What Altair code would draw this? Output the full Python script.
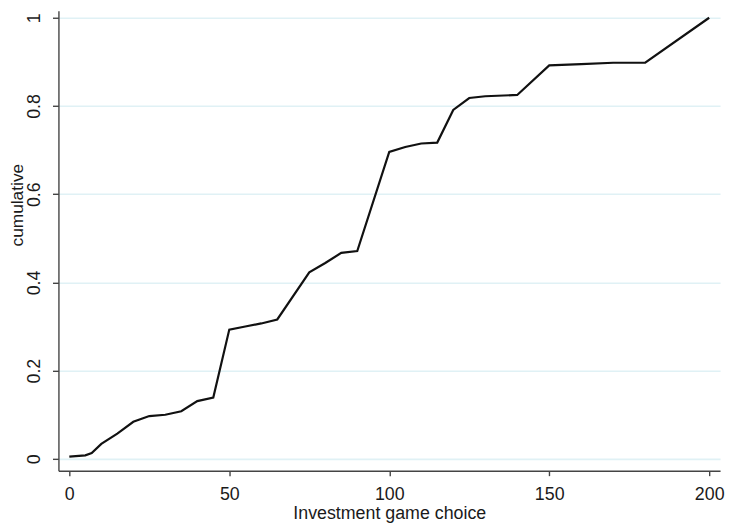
import altair as alt
import pandas as pd

# Investment game choice (x) and cumulative share (y)
choice = [0, 5, 7, 10, 15, 20, 25, 30, 35, 40, 45, 50, 55, 60, 65, 75, 80, 85, 90,
          100, 105, 110, 115, 120, 125, 130, 140, 150, 160, 170, 180, 200]
cumulative = [0.005, 0.008, 0.013, 0.034, 0.057, 0.084, 0.097, 0.100, 0.108, 0.131, 0.139,
              0.293, 0.300, 0.307, 0.316, 0.423, 0.444, 0.467, 0.471,
              0.696, 0.707, 0.715, 0.717, 0.791, 0.818, 0.822, 0.825,
              0.892, 0.895, 0.898, 0.898, 1.0]
x_ticks = [0, 50, 100, 150, 200]
y_ticks = [0, 0.2, 0.4, 0.6, 0.8, 1]

df = pd.DataFrame({"choice": choice, "cumulative": cumulative})

FONT = "Liberation Sans"

chart = alt.Chart(df).mark_line(color="#111111", strokeWidth=2.2, strokeJoin="miter").encode(
    x=alt.X("choice:Q",
            scale=alt.Scale(domain=[-3.4, 203.4], nice=False, zero=False),
            axis=alt.Axis(title="Investment game choice", values=x_ticks, grid=False,
                          format="d", tickSize=5, labelPadding=10, titlePadding=1,
                          labelFlush=False)),
    y=alt.Y("cumulative:Q",
            scale=alt.Scale(domain=[-0.0269, 1.0157], nice=False, zero=False),
            axis=alt.Axis(title="cumulative", values=y_ticks, grid=True,
                          format="~g", tickSize=6, labelAngle=-90,
                          labelAlign="center", labelBaseline="bottom",
                          labelPadding=9, titlePadding=-1, titleY=196,
                          labelFlush=False)),
).properties(
    width=669, height=465,
    autosize=alt.AutoSizeParams(type="none"),
    padding={"left": 51, "top": 0, "right": 6, "bottom": 50},
).configure_view(stroke=None).configure_axis(
    labelFont=FONT, titleFont=FONT, labelFontSize=18, titleFontSize=18,
    labelColor="#1a1a1a", titleColor="#1a1a1a", titleFontWeight="normal",
    domainColor="#444444", domainWidth=1.4, tickColor="#444444", tickWidth=1.4,
    gridColor="#e0f1f5", gridWidth=1.6,
).configure_axisY(titleFontSize=17.5)

chart.save("out.html", embed_options={"renderer": "svg", "actions": False})
